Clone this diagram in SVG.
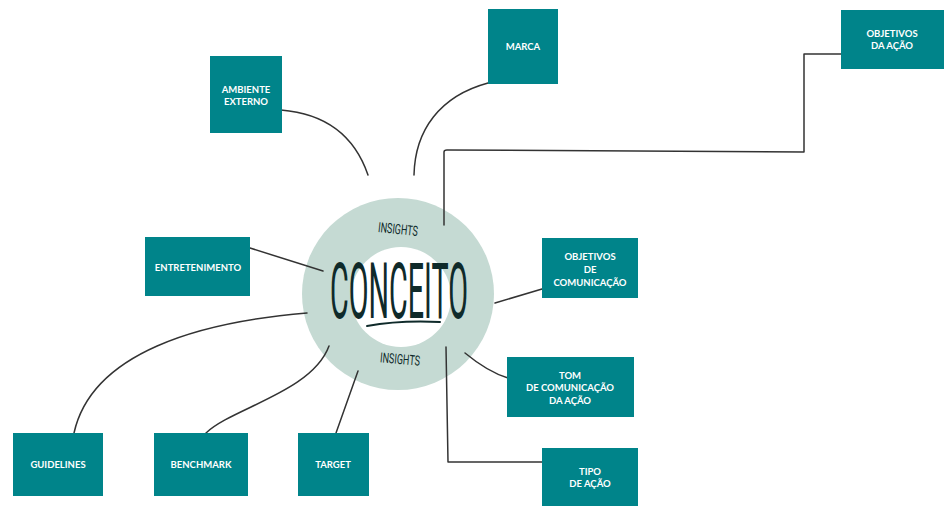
<svg xmlns="http://www.w3.org/2000/svg" width="944" height="507" viewBox="0 0 944 507">
  <style>
    .box { fill: #00848a; }
    .lbl { font-family: Lato, "Open Sans", "Liberation Sans", sans-serif; font-weight: 700; font-size: 9.5px; fill: #ffffff; text-anchor: middle; }
    .link { fill: none; stroke: #333333; stroke-width: 1.5; stroke-linecap: round; stroke-linejoin: round; }
    .hand { font-family: Roboto, "DejaVu Sans Condensed", sans-serif; font-weight: 400; fill: #0f2a2a; text-anchor: middle; }
  </style>
  <rect width="944" height="507" fill="#ffffff"/>

  <!-- central concept ring -->
  <g id="conceito">
    <circle cx="398" cy="294" r="96" fill="#c5dad3"/>
    <circle cx="401" cy="297" r="50" fill="#ffffff"/>
    <text class="hand" x="398" y="234" font-size="14" transform="rotate(6 398 230)" textLength="40" lengthAdjust="spacingAndGlyphs">INSIGHTS</text>
    <text class="hand" x="400" y="364" font-size="14" transform="rotate(5 400 360)" textLength="40" lengthAdjust="spacingAndGlyphs">INSIGHTS</text>
    <text class="hand" x="399" y="318" font-size="78" textLength="138" lengthAdjust="spacingAndGlyphs">CONCEITO</text>
    <path d="M367 326 Q400 320 440 322" fill="none" stroke="#0f2a2a" stroke-width="2" stroke-linecap="round"/>
  </g>

  <!-- connectors -->
  <g id="connectors">
    <path class="link" d="M281 110 C330 114 356 140 368 175"/>
    <path class="link" d="M488 83 C440 96 415 130 414 175"/>
    <path class="link" d="M444 225 L444 152 Q444 150 447 150 L804 152 L804 54 L841 54"/>
    <path class="link" d="M250 248 L323 271"/>
    <path class="link" d="M542 289 L495 303"/>
    <path class="link" d="M465 353 Q488 372 508 378"/>
    <path class="link" d="M446 347 L448 462 L542 462"/>
    <path class="link" d="M74 433 C92 352 200 322 307 313"/>
    <path class="link" d="M206 433 C232 408 312 392 329 346"/>
    <path class="link" d="M336 433 L358 371"/>
  </g>

  <g id="ambiente-externo">
    <rect class="box" x="210" y="56" width="72" height="77"/>
    <text class="lbl" x="246" y="93">AMBIENTE</text>
    <text class="lbl" x="246" y="105">EXTERNO</text>
  </g>
  <g id="marca">
    <rect class="box" x="488" y="9" width="70" height="75"/>
    <text class="lbl" x="523" y="50">MARCA</text>
  </g>
  <g id="objetivos-acao">
    <rect class="box" x="841" y="10" width="103" height="59"/>
    <text class="lbl" x="892" y="37">OBJETIVOS</text>
    <text class="lbl" x="892" y="49">DA AÇÃO</text>
  </g>
  <g id="entretenimento">
    <rect class="box" x="145" y="237" width="105" height="59"/>
    <text class="lbl" x="198" y="271">ENTRETENIMENTO</text>
  </g>
  <g id="objetivos-comunicacao">
    <rect class="box" x="542" y="238" width="96" height="60"/>
    <text class="lbl" x="590" y="260">OBJETIVOS</text>
    <text class="lbl" x="590" y="273">DE</text>
    <text class="lbl" x="590" y="286">COMUNICAÇÃO</text>
  </g>
  <g id="tom-comunicacao">
    <rect class="box" x="507" y="357" width="127" height="60"/>
    <text class="lbl" x="570" y="378.5">TOM</text>
    <text class="lbl" x="570" y="391">DE COMUNICAÇÃO</text>
    <text class="lbl" x="570" y="403.5">DA AÇÃO</text>
  </g>
  <g id="tipo-acao">
    <rect class="box" x="542" y="448" width="96" height="58"/>
    <text class="lbl" x="590" y="475">TIPO</text>
    <text class="lbl" x="590" y="487">DE AÇÃO</text>
  </g>
  <g id="guidelines">
    <rect class="box" x="13" y="433" width="90" height="63"/>
    <text class="lbl" x="58" y="468">GUIDELINES</text>
  </g>
  <g id="benchmark">
    <rect class="box" x="154" y="433" width="94" height="63"/>
    <text class="lbl" x="201" y="468">BENCHMARK</text>
  </g>
  <g id="target">
    <rect class="box" x="298" y="433" width="71" height="63"/>
    <text class="lbl" x="333" y="468">TARGET</text>
  </g>
</svg>
